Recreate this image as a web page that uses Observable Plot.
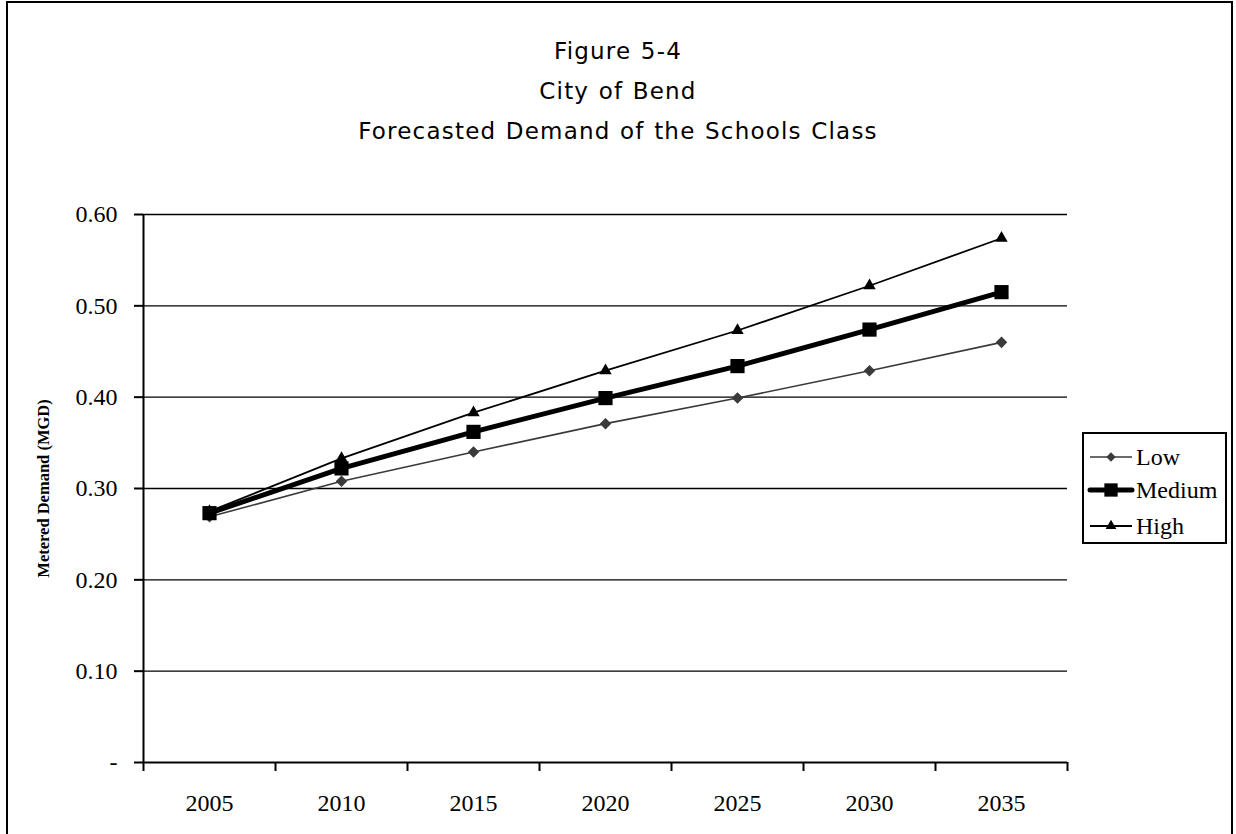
<!DOCTYPE html>
<html>
<head>
<meta charset="utf-8">
<script src="https://cdn.jsdelivr.net/npm/d3@7"></script>
<script src="https://cdn.jsdelivr.net/npm/@observablehq/plot@0.6"></script>
<style>
  html, body { margin: 0; padding: 0; background: #fff; overflow: hidden; }
  #wrap { position: relative; width: 1236px; height: 834px; overflow: hidden; }
  #frame { position: absolute; left: 6px; top: 1px; width: 1227px; height: 900px; border: 2px solid #000; box-sizing: border-box; pointer-events: none; }
  #title { position: absolute; left: 0; top: 31px; width: 1236px; text-align: center; font-family: "DejaVu Sans", Verdana, sans-serif; font-size: 23px; letter-spacing: 1.2px; word-spacing: 1px; line-height: 40px; color: #000; }
  #chart { position: absolute; left: 0; top: 0; }
  #legend { position: absolute; left: 1082px; top: 432px; width: 145px; height: 112px; border: 2px solid #000; box-sizing: border-box; background: #fff; }
  #legend svg { position: absolute; left: 0; top: 0; }
</style>
</head>
<body>
<div id="wrap">
  <div id="chart"></div>
  <div id="title">
    <div>Figure 5-4</div>
    <div>City of Bend</div>
    <div>Forecasted Demand of the Schools Class</div>
  </div>
  <div id="legend"></div>
  <div id="frame"></div>
</div>
<script>
// ---- Data ----
const years = [2005, 2010, 2015, 2020, 2025, 2030, 2035];
const lowValues = [0.269, 0.308, 0.340, 0.371, 0.399, 0.429, 0.460];
const mediumValues = [0.273, 0.322, 0.362, 0.399, 0.434, 0.474, 0.515];
const highValues = [0.275, 0.333, 0.383, 0.429, 0.473, 0.522, 0.574];
const yTicks = [0, 0.1, 0.2, 0.3, 0.4, 0.5, 0.6];
const seriesNames = ["Low", "Medium", "High"];
const yLabel = "Metered Demand (MGD)";

const toRows = (vals) => years.map((y, i) => ({year: y, value: vals[i]}));
const low = toRows(lowValues), medium = toRows(mediumValues), high = toRows(highValues);

// category boundaries (Excel-style category axis: ticks between categories)
const step = years[1] - years[0];
const boundaries = years.map(y => y - step / 2).concat([years[years.length - 1] + step / 2]);

const serif = "'Liberation Serif', 'Times New Roman', serif";

const plot = Plot.plot({
  width: 1236,
  height: 834,
  marginLeft: 143,
  marginRight: 169,
  marginTop: 214,
  marginBottom: 72,
  style: {fontFamily: serif, fontSize: "24px", color: "#000", background: "transparent"},
  x: {type: "linear", domain: [boundaries[0], boundaries[boundaries.length - 1]]},
  y: {domain: [0, 0.6]},
  marks: [
    Plot.ruleY(yTicks.filter(d => d > 0), {stroke: "#000", strokeWidth: 1.3}),
    // y axis
    Plot.axisY({ticks: yTicks, tickSize: 9, tickPadding: 17, tickFormat: d => d === 0 ? "-" : d3.format(".2f")(d), label: null, strokeWidth: 2, fontSize: 24}),
    Plot.ruleX([boundaries[0]], {stroke: "#000", strokeWidth: 2}),
    Plot.ruleY([0], {stroke: "#000", strokeWidth: 2}),
    // x axis: tick marks at category boundaries, labels at category centres
    Plot.axisX({ticks: boundaries, tickSize: 9, tickFormat: () => "", label: null, strokeWidth: 2}),
    Plot.axisX({ticks: years, tickSize: 0, tickPadding: 31, tickFormat: d => String(d), label: null, fontSize: 24}),
    // y axis title
    Plot.text([yLabel], {frameAnchor: "left", dx: -100, rotate: -90, textAnchor: "middle", fontWeight: "bold", fontSize: 16.5, fontFamily: serif, fill: "#000"}),
    // series
    Plot.line(low, {x: "year", y: "value", stroke: "#3a3a3a", strokeWidth: 1.6}),
    Plot.line(high, {x: "year", y: "value", stroke: "#000", strokeWidth: 1.8}),
    Plot.line(medium, {x: "year", y: "value", stroke: "#000", strokeWidth: 5}),
    Plot.dot(low, {x: "year", y: "value", symbol: "diamond2", r: 5.2, fill: "#3a3a3a", stroke: "none"}),
    Plot.dot(medium, {x: "year", y: "value", symbol: "square", r: 8, fill: "#000", stroke: "none"}),
    Plot.dot(high, {x: "year", y: "value", symbol: "triangle", r: 4.6, fill: "#000", stroke: "none"})
  ]
});
document.getElementById("chart").appendChild(plot);

// ---- Legend ----
const legendStyles = [
  {stroke: "#3a3a3a", width: 1.6, symbol: d3.symbolDiamond2, size: Math.PI * 4.2 * 4.2},
  {stroke: "#000", width: 5, symbol: d3.symbolSquare, size: Math.PI * 7.5 * 7.5},
  {stroke: "#000", width: 1.8, symbol: d3.symbolTriangle, size: Math.PI * 4 * 4}
];
const rowY = [23, 56, 92];
const lg = d3.select("#legend").append("svg").attr("width", 141).attr("height", 108);
seriesNames.forEach((name, i) => {
  const s = legendStyles[i];
  const g = lg.append("g").attr("transform", `translate(0,${rowY[i]})`);
  g.append("line").attr("x1", 6).attr("x2", 48).attr("y1", 0).attr("y2", 0)
    .attr("stroke", s.stroke).attr("stroke-width", s.width).attr("stroke-linecap", i === 1 ? "round" : "butt");
  g.append("path").attr("transform", "translate(27,0)").attr("d", d3.symbol(s.symbol, s.size)()).attr("fill", s.stroke);
  g.append("text").attr("x", 52).attr("y", 0).attr("dy", "0.35em").text(name)
    .attr("font-family", serif).attr("font-size", 24).attr("fill", "#000");
});
</script>
</body>
</html>
